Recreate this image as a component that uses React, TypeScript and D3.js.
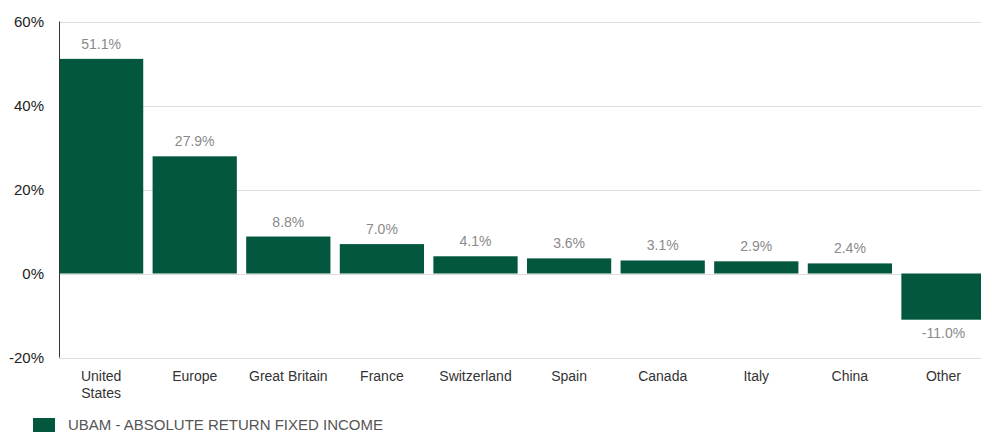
import React from 'react'
import * as d3 from 'd3'

const categories = ['United States', 'Europe', 'Great Britain', 'France', 'Switzerland', 'Spain', 'Canada', 'Italy', 'China', 'Other']
const values = [51.1, 27.9, 8.8, 7.0, 4.1, 3.6, 3.1, 2.9, 2.4, -11.0]
const yTicks = [-20, 0, 20, 40, 60]
const seriesName = 'UBAM - ABSOLUTE RETURN FIXED INCOME'

const WIDTH = 981
const HEIGHT = 432
const BAR_COLOR = '#02573e'
const FONT = '"Liberation Sans", Arial, sans-serif'

export default function App() {
  const x = d3.scaleBand<string>()
    .domain(categories)
    .range([59, 985.6])
    .paddingInner(0.1)
    .paddingOuter(0)

  const y = d3.scaleLinear()
    .domain([-20, 60])
    .range([357.5, 21.5])

  const labelLines = (c: string) => (c === 'United States' ? ['United', 'States'] : [c])

  return (
    <svg width={WIDTH} height={HEIGHT} style={{ position: 'absolute', left: 0, top: 0, fontFamily: FONT }}>
      {/* grid */}
      {yTicks.map((t) => (
        <g key={t}>
          <line x1={59} x2={WIDTH} y1={Math.round(y(t)) + 0.5} y2={Math.round(y(t)) + 0.5} stroke="#dcdcdc" strokeWidth={1} />
          <text x={44} y={y(t) + 5} textAnchor="end" fontSize={15} fill="#222">{t}%</text>
        </g>
      ))}

      {/* bars */}
      {categories.map((c, i) => {
        const v = values[i]
        const x0 = x(c) || 0
        const top = y(Math.max(0, v))
        const bottom = y(Math.min(0, v))
        return (
          <g key={c}>
            <rect x={x0} y={top} width={x.bandwidth()} height={bottom - top} fill={BAR_COLOR} />
            <text
              x={x0 + x.bandwidth() / 2}
              y={v >= 0 ? top - 10 : bottom + 18}
              textAnchor="middle"
              fontSize={14}
              fill="#8a8a8a"
            >
              {v.toFixed(1)}%
            </text>
            {labelLines(c).map((l, j) => (
              <text key={l} x={x0 + x.bandwidth() / 2} y={381 + j * 17} textAnchor="middle" fontSize={14} fill="#333">
                {l}
              </text>
            ))}
          </g>
        )
      })}

      {/* y axis line */}
      <line x1={59.5} x2={59.5} y1={y(60)} y2={y(-20)} stroke="#333" strokeWidth={1} />

      {/* legend */}
      <rect x={33} y={418} width={22} height={14} fill={BAR_COLOR} />
      <text x={68} y={430} fontSize={15} fill="#555">{seriesName}</text>
    </svg>
  )
}
